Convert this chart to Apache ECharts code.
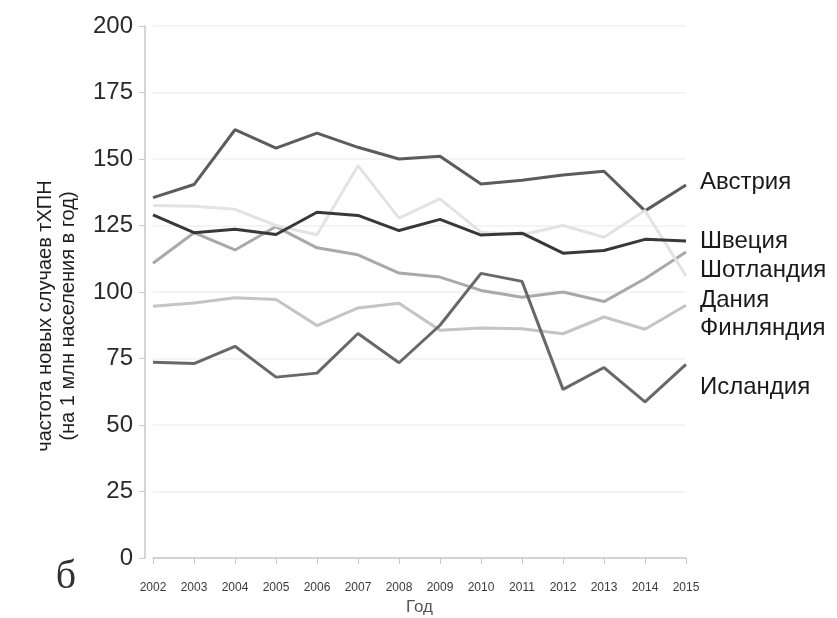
<!DOCTYPE html>
<html>
<head>
<meta charset="utf-8">
<script src="https://cdn.jsdelivr.net/npm/echarts@6/dist/echarts.min.js"></script>
<style>
  html, body { margin: 0; padding: 0; background: #ffffff; }
  #chart { width: 837px; height: 618px; }
</style>
</head>
<body>
<div id="chart"></div>
<script>
// Years on the horizontal axis
const years = ['2002', '2003', '2004', '2005', '2006', '2007', '2008',
               '2009', '2010', '2011', '2012', '2013', '2014', '2015'];

// Incidence of new cases per 1 million population per year
const austria  = [135.5, 140.4, 161.0, 154.1, 159.7, 154.4, 150.0, 151.0, 140.6, 142.0, 144.0, 145.4, 130.5, 140.2];
const sweden   = [129.0, 122.3, 123.6, 121.6, 130.0, 128.8, 123.1, 127.3, 121.4, 122.1, 114.6, 115.6, 119.8, 119.2];
const scotland = [110.8, 122.3, 115.8, 124.6, 116.6, 114.0, 107.1, 105.6, 100.6, 98.0, 100.0, 96.4, 105.0, 115.0];
const denmark  = [132.5, 132.2, 131.1, 125.0, 121.5, 147.5, 127.8, 135.0, 122.5, 121.5, 125.0, 120.6, 130.6, 106.0];
const finland  = [94.6, 95.9, 97.8, 97.2, 87.4, 94.0, 95.8, 85.6, 86.5, 86.2, 84.3, 90.6, 86.0, 95.0];
const iceland  = [73.6, 73.1, 79.6, 68.0, 69.5, 84.4, 73.4, 87.5, 107.0, 104.0, 63.4, 71.6, 58.7, 72.8];

const yTicks = [0, 25, 50, 75, 100, 125, 150, 175, 200];

const FONT = '"Liberation Sans", Arial, sans-serif';

function lineSeries(name, data, color, labelShift) {
  return {
    name: name,
    type: 'line',
    data: data,
    symbol: 'none',
    smooth: false,
    lineStyle: { color: color, width: 3 },
    itemStyle: { color: color },
    endLabel: {
      show: true,
      formatter: '{a}',
      distance: 14,
      offset: [0, labelShift],
      color: '#1a1a1a',
      fontSize: 24,
      fontFamily: FONT
    },
    emphasis: { disabled: true }
  };
}

const chart = echarts.init(document.getElementById('chart'), null, { renderer: 'canvas' });

chart.setOption({
  animation: false,
  backgroundColor: '#ffffff',
  grid: { left: 153, right: 151, top: 26, bottom: 60, containLabel: false, outerBoundsMode: 'none' },
  xAxis: {
    type: 'category',
    data: years,
    boundaryGap: false,
    name: 'Год',
    nameLocation: 'middle',
    nameGap: 40,
    nameTextStyle: { color: '#555555', fontSize: 17, fontFamily: FONT },
    axisLine: { show: true, lineStyle: { color: '#c8c8c8', width: 1.5 } },
    axisTick: { show: true, length: 6, lineStyle: { color: '#c8c8c8' } },
    axisLabel: { color: '#3a3a3a', fontSize: 12, fontFamily: FONT, margin: 24 },
    splitLine: { show: false }
  },
  yAxis: {
    type: 'value',
    min: yTicks[0],
    max: yTicks[yTicks.length - 1],
    interval: 25,
    offset: 8,
    axisLine: { show: true, lineStyle: { color: '#c8c8c8', width: 1.5 } },
    axisTick: { show: true, length: 6, lineStyle: { color: '#c8c8c8' } },
    axisLabel: { color: '#2a2a2a', fontSize: 24, fontFamily: FONT, margin: 12 },
    splitLine: { show: true, lineStyle: { color: '#f1f1f1', width: 1.5 } }
  },
  series: [
    lineSeries('Австрия', austria, '#5c5c5c', -3),
    lineSeries('Финляндия', finland, '#c4c4c4', 23),
    lineSeries('Шотландия', scotland, '#a9a9a9', 18),
    lineSeries('Дания', denmark, '#e3e3e3', 24),
    lineSeries('Исландия', iceland, '#686868', 23),
    lineSeries('Швеция', sweden, '#383838', 0)
  ],
  graphic: [
    {
      type: 'text',
      x: 45,
      y: 316,
      rotation: Math.PI / 2,
      style: {
        text: 'частота новых случаев тХПН',
        fill: '#1e1e1e',
        font: '20px ' + FONT,
        textAlign: 'center',
        textVerticalAlign: 'middle'
      }
    },
    {
      type: 'text',
      x: 68,
      y: 316,
      rotation: Math.PI / 2,
      style: {
        text: '(на 1 млн населения в год)',
        fill: '#1e1e1e',
        font: '20px ' + FONT,
        textAlign: 'center',
        textVerticalAlign: 'middle'
      }
    },
    {
      type: 'text',
      x: 66,
      y: 577,
      style: {
        text: 'б',
        fill: '#333333',
        font: '40px "Liberation Serif", "Times New Roman", serif',
        textAlign: 'center',
        textVerticalAlign: 'middle'
      }
    }
  ]
});
</script>
</body>
</html>
